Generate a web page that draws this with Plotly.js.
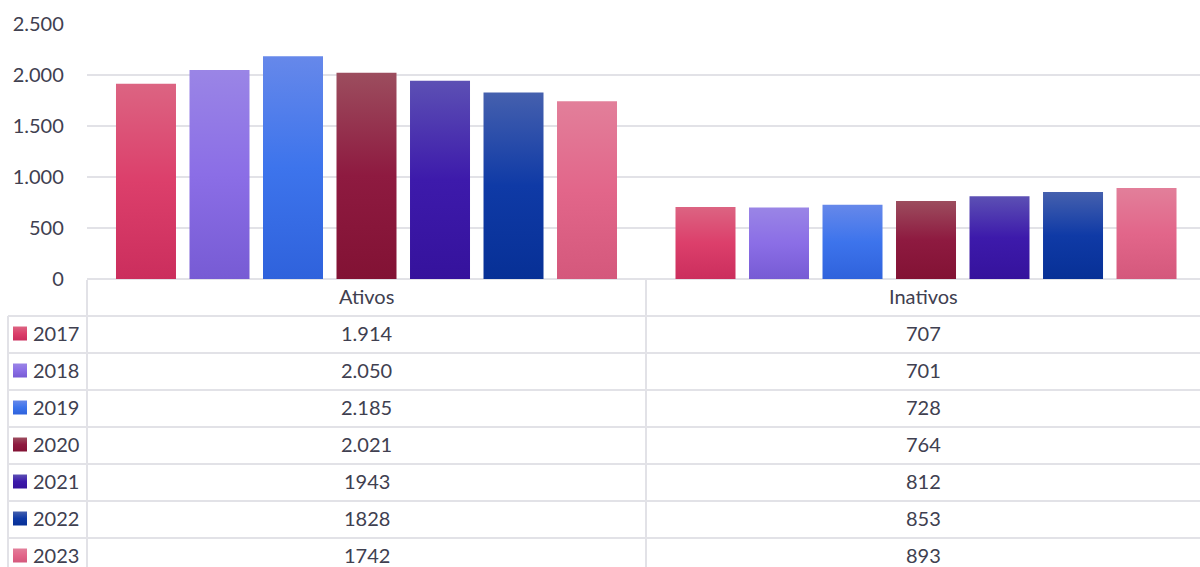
<!DOCTYPE html>
<html>
<head>
<meta charset="utf-8">
<script src="https://cdn.plot.ly/plotly-3.0.1.min.js"></script>
<style>
html, body { margin: 0; padding: 0; overflow: hidden; background: #ffffff; }
#chart { width: 1200px; height: 567px; }
</style>
</head>
<body>
<div id="chart"></div>
<script>
// ---- data ----
var categories = ['Ativos', 'Inativos'];
var years = ['2017', '2018', '2019', '2020', '2021', '2022', '2023'];
var ativos = [1914, 2050, 2185, 2021, 1943, 1828, 1742];
var inativos = [707, 701, 728, 764, 812, 853, 893];
var ativosLabels = ['1.914', '2.050', '2.185', '2.021', '1943', '1828', '1742'];
var inativosLabels = ['707', '701', '728', '764', '812', '853', '893'];
var yTicks = [0, 500, 1000, 1500, 2000, 2500];

// ---- styles ----
var midColors = ['#dc3f6b', '#8b6ee6', '#3d74ec', '#8e1a40', '#3d1aab', '#0f3aa6', '#e2668a'];
var gradStops = [
  ['#dc6482', '#dc3f6b', '#cb2e5d'],
  ['#9a85e6', '#8b6ee6', '#775bd4'],
  ['#6688ea', '#3d74ec', '#2f62dc'],
  ['#9c4d5e', '#8e1a40', '#821234'],
  ['#5c50b4', '#3d1aab', '#35129c'],
  ['#4560ae', '#0f3aa6', '#073096'],
  ['#e27f9a', '#e2668a', '#d4587c']
];
var textColor = '#404050';
var gridColor = '#e2e2e7';
var fontFamily = 'Lato, "Open Sans", sans-serif';

// ---- page geometry (pixels) ----
var W = 1200, H = 567;
var colEdges = [8, 87, 646, 1200];     // legend column, Ativos, Inativos
var headerTop = 280, headerH = 36, rowH = 37, textLift = 2;
function px(x) { return x / W; }
function py(y) { return 1 - y / H; }

// ---- bar traces ----
var traces = years.map(function (y, i) {
  return {
    type: 'bar',
    name: y,
    x: categories,
    y: [ativos[i], inativos[i]],
    marker: { color: midColors[i], line: { width: 0 } },
    hoverinfo: 'x+y+name'
  };
});

// ---- data table drawn under the plot ----
var shapes = [], annotations = [];
var rowsTop = headerTop + headerH;
var tableBottom = rowsTop + rowH * years.length;
var lineStyle = { color: gridColor, width: 2 };
function hline(y, x0, x1) {
  shapes.push({ type: 'line', xref: 'paper', yref: 'paper', x0: px(x0), x1: px(x1), y0: py(y), y1: py(y), line: lineStyle, layer: 'below' });
}
function vline(x, y0, y1) {
  shapes.push({ type: 'line', xref: 'paper', yref: 'paper', x0: px(x), x1: px(x), y0: py(y0), y1: py(y1), line: lineStyle, layer: 'below' });
}
for (var r = 0; r <= years.length; r++) hline(rowsTop + r * rowH, colEdges[0], colEdges[3]);
vline(colEdges[0], rowsTop, tableBottom);
vline(colEdges[1], headerTop, tableBottom);
vline(colEdges[2], headerTop, tableBottom);

function cellText(text, xc, yc, anchor) {
  annotations.push({
    xref: 'paper', yref: 'paper', x: px(xc), y: py(yc - textLift),
    xanchor: anchor || 'center', yanchor: 'middle', showarrow: false,
    text: text, font: { family: fontFamily, size: 20, color: textColor }
  });
}
var col1c = (colEdges[1] + colEdges[2]) / 2, col2c = (colEdges[2] + colEdges[3]) / 2;
cellText(categories[0], col1c, headerTop + headerH / 2);
cellText(categories[1], col2c, headerTop + headerH / 2);

var swatchIdx = [];
years.forEach(function (y, i) {
  var yc = rowsTop + i * rowH + rowH / 2;
  cellText(ativosLabels[i], col1c, yc);
  cellText(inativosLabels[i], col2c, yc);
  cellText(y, colEdges[0] + 23, yc, 'left');
  swatchIdx.push(shapes.length);
  shapes.push({
    type: 'rect', xref: 'paper', yref: 'paper',
    x0: px(colEdges[0] + 5), x1: px(colEdges[0] + 19),
    y0: py(yc - 8), y1: py(yc + 6),
    fillcolor: midColors[i], line: { width: 0 }
  });
});

var layout = {
  width: W,
  height: H,
  margin: { l: 0, r: 0, t: 0, b: 0 },
  paper_bgcolor: '#ffffff',
  plot_bgcolor: '#ffffff',
  separators: ',.',
  showlegend: false,
  barmode: 'group',
  bargap: 0.0804,
  bargroupgap: 0.1837,
  font: { family: fontFamily, color: textColor, size: 20 },
  xaxis: {
    domain: [86.75 / W, 1],
    range: [-0.5, 1.4897],
    showticklabels: false,
    showgrid: false,
    zeroline: false,
    showline: false,
    ticks: ''
  },
  yaxis: {
    domain: [py(279), py(24)],
    range: [0, 2500],
    tickvals: yTicks,
    tickformat: ',d',
    showgrid: true,
    gridcolor: gridColor,
    gridwidth: 2,
    zeroline: true,
    zerolinecolor: gridColor,
    zerolinewidth: 2,
    showline: false,
    ticks: '',
    ticklabelstandoff: 22,
    tickfont: { family: fontFamily, size: 20, color: textColor }
  },
  shapes: shapes,
  annotations: annotations
};

Plotly.newPlot('chart', traces, layout, { displayModeBar: false, staticPlot: true }).then(function (gd) {
  var svgNS = 'http://www.w3.org/2000/svg';
  var defs = gd.querySelector('svg.main-svg defs');
  gradStops.forEach(function (stops, i) {
    var lg = document.createElementNS(svgNS, 'linearGradient');
    lg.setAttribute('id', 'bargrad' + i);
    lg.setAttribute('x1', '0'); lg.setAttribute('y1', '0');
    lg.setAttribute('x2', '0'); lg.setAttribute('y2', '1');
    [0, 0.5, 1].forEach(function (off, k) {
      var s = document.createElementNS(svgNS, 'stop');
      s.setAttribute('offset', off);
      s.setAttribute('stop-color', stops[k]);
      lg.appendChild(s);
    });
    defs.appendChild(lg);
  });
  gd.querySelectorAll('g.trace.bars').forEach(function (t, i) {
    t.querySelectorAll('path').forEach(function (p) {
      p.style.fill = 'url(#bargrad' + i + ')';
    });
  });
  swatchIdx.forEach(function (k, i) {
    var p = gd.querySelector('path[data-index="' + k + '"]');
    if (p) p.style.fill = 'url(#bargrad' + i + ')';
  });
});
</script>
</body>
</html>
